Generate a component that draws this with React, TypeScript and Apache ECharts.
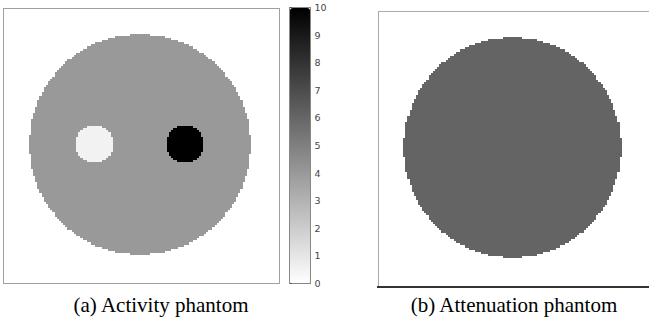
import React, { useEffect, useRef } from 'react';
import * as echarts from 'echarts';

// Phantom definition (pixel units on a 128 x 128 image grid)
const gridSize = 128;
const cellLabels: string[] = Array.from({ length: gridSize }, (_, i) => String(i));
const phantomCenterX = 63;
const phantomCenterY = 63;
const phantomRadius = 51.2;
const activityBackgroundValue = 4;
const spotNames = ['cold lesion', 'hot lesion'];
const spotCenterX = [42, 84];
const spotCenterY = [63, 63];
const spotRadius = [8.7, 8.7];
const spotValue = [0.5, 10];
const attenuationValue = 0.096;
const activityRange = [0, 10];
const attenuationRange = [0, 0.158];
const colorbarTickInterval = 1;
const captions = ['(a) Activity phantom', '(b) Attenuation phantom'];

function insideCircle(i: number, j: number, cx: number, cy: number, r: number) {
  const dx = i - cx;
  const dy = j - cy;
  return dx * dx + dy * dy <= r * r;
}

function buildActivity(): number[][] {
  const out: number[][] = [];
  for (let j = 0; j < gridSize; j++) {
    for (let i = 0; i < gridSize; i++) {
      if (!insideCircle(i, j, phantomCenterX, phantomCenterY, phantomRadius)) continue;
      let v = activityBackgroundValue;
      spotNames.forEach((_, k) => {
        if (insideCircle(i, j, spotCenterX[k], spotCenterY[k], spotRadius[k])) v = spotValue[k];
      });
      out.push([i, j, v]);
    }
  }
  return out;
}

function buildAttenuation(): number[][] {
  const out: number[][] = [];
  for (let j = 0; j < gridSize; j++) {
    for (let i = 0; i < gridSize; i++) {
      if (insideCircle(i, j, phantomCenterX, phantomCenterY, phantomRadius)) out.push([i, j, attenuationValue]);
    }
  }
  return out;
}

export default function App() {
  const ref = useRef<HTMLDivElement>(null);
  useEffect(() => {
    if (!ref.current) return;
    const chart = echarts.init(ref.current, undefined, { renderer: 'svg' });
    const hiddenCat = (gridIndex: number) => ({
      type: 'category' as const,
      gridIndex,
      data: cellLabels,
      show: false,
    });
    chart.setOption({
      animation: false,
      backgroundColor: '#ffffff',
      grid: [
        { left: 3, top: 8, width: 276, height: 275, show: true, borderColor: '#a0a0a0', borderWidth: 1, backgroundColor: 'transparent' },
        { left: 378, top: 11, width: 275, height: 275, show: true, borderColor: '#aaaaaa', borderWidth: 1, backgroundColor: 'transparent' },
        { left: 289.5, top: 7.5, width: 21, height: 276, show: true, borderColor: '#888888', borderWidth: 1, backgroundColor: 'transparent' },
      ],
      xAxis: [
        hiddenCat(0),
        {
          type: 'category',
          gridIndex: 1,
          data: cellLabels,
          offset: 1,
          axisLine: { show: true, lineStyle: { color: '#333333', width: 2 } },
          axisTick: { show: false },
          axisLabel: { show: false },
          splitLine: { show: false },
        },
        { type: 'value', gridIndex: 2, show: false },
      ],
      yAxis: [
        { ...hiddenCat(0), inverse: true },
        { ...hiddenCat(1), inverse: true },
        {
          type: 'value',
          gridIndex: 2,
          min: activityRange[0],
          max: activityRange[1],
          interval: colorbarTickInterval,
          position: 'right',
          axisLine: { show: false },
          axisTick: { show: true, length: 2, lineStyle: { color: '#555555' } },
          axisLabel: { fontSize: 9.5, color: '#444444', margin: 4, fontFamily: 'DejaVu Sans' },
          splitLine: { show: false },
        },
      ],
      visualMap: [
        {
          type: 'continuous',
          seriesIndex: 0,
          min: activityRange[0],
          max: activityRange[1],
          inRange: { color: ['#ffffff', '#000000'] },
          orient: 'vertical',
          left: 290,
          top: 8,
          itemWidth: 20,
          itemHeight: 275,
          calculable: false,
          hoverLink: false,
          padding: 0,
        },
        {
          type: 'continuous',
          seriesIndex: 1,
          show: false,
          min: attenuationRange[0],
          max: attenuationRange[1],
          inRange: { color: ['#ffffff', '#000000'] },
        },
      ],
      series: [
        {
          type: 'heatmap',
          xAxisIndex: 0,
          yAxisIndex: 0,
          data: buildActivity(),
          progressive: 0,
          emphasis: { disabled: true },
        },
        {
          type: 'heatmap',
          xAxisIndex: 1,
          yAxisIndex: 1,
          data: buildAttenuation(),
          progressive: 0,
          emphasis: { disabled: true },
        },
      ],
      graphic: [
        {
          type: 'text',
          x: 161,
          y: 305,
          style: { text: captions[0], fill: '#000000', font: '21px "Liberation Serif"', textAlign: 'center', textVerticalAlign: 'middle' },
        },
        {
          type: 'text',
          x: 514,
          y: 305,
          style: { text: captions[1], fill: '#000000', font: '21px "Liberation Serif"', textAlign: 'center', textVerticalAlign: 'middle' },
        },
      ],
    });
    const svg = ref.current.querySelector('svg');
    if (svg) svg.setAttribute('shape-rendering', 'crispEdges');
    return () => chart.dispose();
  }, []);
  return (
    <div
      ref={ref}
      style={{ position: 'absolute', left: 0, top: 0, width: 649, height: 319 }}
    />
  );
}
